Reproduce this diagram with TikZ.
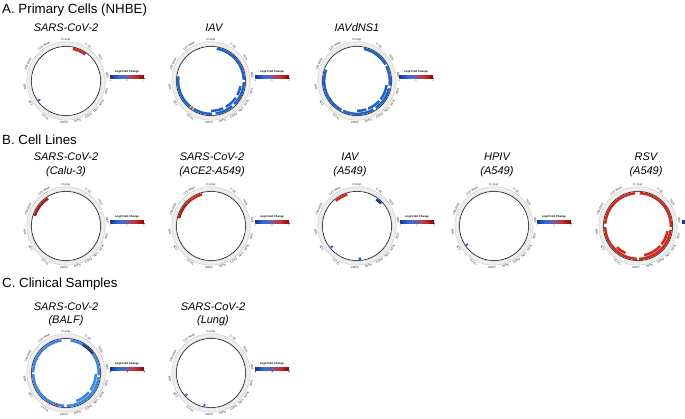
\documentclass[tikz,border=0pt]{standalone}
\usepackage{fontspec}
\setmainfont{Liberation Sans}
\usetikzlibrary{calc}
\definecolor{lfcnavy}{HTML}{14318F}
\definecolor{lfcblue}{HTML}{2C6FE0}
\definecolor{lfcmid}{HTML}{7A5C9E}
\definecolor{lfcred}{HTML}{D42A22}
\definecolor{lfcdark}{HTML}{7E0A0A}
\definecolor{trkblue}{HTML}{1F62CC}
\definecolor{trklight}{HTML}{3A86E6}
\definecolor{trknavy}{HTML}{1B3B8C}
\definecolor{trkred}{HTML}{D2281C}
\definecolor{trkdark}{HTML}{B01A14}
\pgfdeclarehorizontalshading{lfcshade}{100bp}{color(0bp)=(lfcnavy); color(25bp)=(lfcnavy); color(37.5bp)=(lfcblue); color(50bp)=(lfcmid); color(62.5bp)=(lfcred); color(75bp)=(lfcdark); color(100bp)=(lfcdark)}
\newcommand\mtband[5]{\fill[#5] ({90-(#1)}:#4pt) arc[start angle={90-(#1)}, end angle={90-(#2)}, radius=#4pt] -- ({90-(#2)}:#3pt) arc[start angle={90-(#2)}, end angle={90-(#1)}, radius=#3pt] -- cycle;}
\newcommand\trkout[3]{\mtband{#1}{#2}{31.6}{34.1}{#3}}
\newcommand\trkin[3]{\mtband{#1}{#2}{28.6}{31.1}{#3}}
\tikzset{
  header/.style={font=\fontsize{13.3}{15}\selectfont, anchor=west, inner sep=0pt},
  ttl/.style={font=\fontsize{11}{13.5}\selectfont\itshape, align=center, inner sep=0pt},
  genelbl/.style={font=\fontsize{2.9}{3.2}\selectfont, inner sep=0pt, text=black!85},
  legtitle/.style={font=\fontsize{2.75}{3}\selectfont\bfseries, inner sep=0pt},
  legtick/.style={font=\fontsize{2.4}{3}\selectfont, inner sep=0pt, text=black!70},
  mtring/.pic={
    \fill[gray!13, even odd rule] (0,0) circle[radius=39.2pt] (0,0) circle[radius=35.2pt];
    \draw[gray!50, line width=0.3pt] (0,0) circle[radius=39.2pt] (0,0) circle[radius=35.2pt];
    \draw[black, line width=0.5pt] (0,0) circle[radius=34.6pt];
    \foreach \g/\t [count=\k] in {D-loop/0, CYB/32, ND6/56, ND5/82, ND4/104, ND4L/121, ND3/134, COX3/147, ATP6/164, COX2/183, COX1/210, ND2/238, ND1/261, 16S rRNA/294, 12S rRNA/328}{
      \pgfmathsetmacro\rot{ifthenelse(and(\t>90,\t<270),180-\t,-\t)}
      \node[genelbl, rotate=\rot] (-g\k) at ({90-\t}:41.6pt) {\g};
    }
  },
  legbar/.pic={
    \shade[shading=lfcshade] (0,0) rectangle (34pt,3.4pt);
  },
  mtlegend/.pic={
    \shade[shading=lfcshade] (0,0) rectangle (34pt,3.4pt);
    \node[legtitle] (-t) at (17pt,6.6pt) {Log2 Fold Change};
    \draw[line width=0.2pt, black!60] (0,0) -- (0,-0.9pt) (17pt,0) -- (17pt,-0.9pt) (34pt,0) -- (34pt,-0.9pt);
    \node[legtick] (-l) at (0,-2.2pt) {-1};
    \node[legtick] (-m) at (17pt,-2.2pt) {0};
    \node[legtick] (-r) at (34pt,-2.2pt) {1};
  }
}
\begin{document}
\begin{tikzpicture}[x=1pt,y=1pt]
\useasboundingbox (0,0) rectangle (685,418);
\clip (0,0) rectangle (685,418);
\fill[white] (0,0) rectangle (685,418);

% headers
\node[header] (hA) at (2,408) {A. Primary Cells (NHBE)};
\node[header] (hB) at (2,278) {B. Cell Lines};
\node[header] (hC) at (2,134) {C. Clinical Samples};

% titles
\node[ttl] (ta1) at (66,390) {SARS-CoV-2};
\node[ttl] (ta2) at (214,390) {IAV};
\node[ttl] (ta3) at (357,390) {IAVdNS1};
\node[ttl] (tb1) at (66,253) {SARS-CoV-2\\(Calu-3)};
\node[ttl] (tb2) at (212,253) {SARS-CoV-2\\(ACE2-A549)};
\node[ttl] (tb3) at (350,253) {IAV\\(A549)};
\node[ttl] (tb4) at (497,253) {HPIV\\(A549)};
\node[ttl] (tb5) at (646,253) {RSV\\(A549)};
\node[ttl] (tc1) at (66,103.5) {SARS-CoV-2\\(BALF)};
\node[ttl] (tc2) at (213,103.5) {SARS-CoV-2\\(Lung)};

% circle centres
\coordinate (a1) at (66,337);
\coordinate (a2) at (211,337);
\coordinate (a3) at (357,337);
\coordinate (b1) at (66,192);
\coordinate (b2) at (211,192);
\coordinate (b3) at (357,192);
\coordinate (b4) at (494,192);
\coordinate (b5) at (638,192);
\coordinate (c1) at (66,45);
\coordinate (c2) at (211,45);

% rings
\foreach \c in {a1,a2,a3,b1,b2,b3,b4,b5,c1,c2}{
  \pic (r\c) at (\c) {mtring};
}

% legends
\pic (la1) at (110,339.5) {mtlegend};
\pic (la2) at (255,339.5) {mtlegend};
\pic (la3) at (399,339.5) {mtlegend};
\pic (lb1) at (110,194.5) {mtlegend};
\pic (lb2) at (255,194.5) {mtlegend};
\pic (lb3) at (400,194.5) {mtlegend};
\pic (lb4) at (537,194.5) {mtlegend};
\pic (lb5) at (682,194.5) {legbar};
\pic (lc1) at (110,47.5) {mtlegend};
\pic (lc2) at (255,47.5) {mtlegend};

% A1 SARS-CoV-2 NHBE
\begin{scope}[shift={(a1)}]
  \trkout{12}{36}{trkred}
  \trkout{233}{236}{trkblue}
\end{scope}
% A2 IAV
\begin{scope}[shift={(a2)}]
  \trkout{10}{88}{trkblue}
  \trkout{92}{135}{trkblue}
  \trkout{140}{172}{trkblue}
  \trkout{178}{212}{trkblue}
  \trkout{214}{217}{trkred}
  \trkout{219}{278}{trkblue}
  \trkin{100}{118}{trkblue}
  \trkin{124}{150}{trkblue}
  \trkin{156}{180}{trkblue}
\end{scope}
% A3 IAVdNS1
\begin{scope}[shift={(a3)}]
  \trkout{12}{60}{trkblue}
  \trkout{63}{98}{trkblue}
  \trkout{103}{145}{trkblue}
  \trkout{150}{205}{trkblue}
  \trkout{208}{290}{trkblue}
  \trkin{98}{128}{trkblue}
  \trkin{132}{158}{trkblue}
  \trkin{162}{180}{trkblue}
\end{scope}
% B1 Calu-3
\begin{scope}[shift={(b1)}]
  \trkout{288}{327}{trkdark}
\end{scope}
% B2 ACE2-A549
\begin{scope}[shift={(b2)}]
  \trkout{284}{312}{trkdark}
  \trkout{312}{344}{trkred}
\end{scope}
% B3 IAV A549
\begin{scope}[shift={(b3)}]
  \trkout{320}{343}{trkred}
  \trkout{36}{47}{trknavy}
  \trkout{229}{232}{trkblue}
  \trkout{173}{177}{trkblue}
\end{scope}
% B4 HPIV
\begin{scope}[shift={(b4)}]
  \trkout{234}{237}{trkblue}
\end{scope}
% B5 RSV
\begin{scope}[shift={(b5)}]
  \trkout{3}{92}{trkred}
  \trkout{97}{178}{trkred}
  \trkout{182}{268}{trkred}
  \trkout{274}{355}{trkred}
  \trkin{100}{128}{trkred}
  \trkin{132}{168}{trkred}
  \trkin{205}{225}{trkred}
\end{scope}
% C1 BALF
\begin{scope}[shift={(c1)}]
  \trkout{8}{30}{trklight}
  \trkout{30}{55}{trknavy}
  \trkout{55}{94}{trklight}
  \trkout{97}{179}{trklight}
  \trkout{183}{195}{trklight}
  \trkout{195}{199}{trkred}
  \trkout{199}{268}{trklight}
  \trkout{271}{352}{trklight}
  \trkin{92}{125}{trklight}
  \trkin{130}{160}{trklight}
\end{scope}
% C2 Lung
\begin{scope}[shift={(c2)}]
  \trkout{227}{230}{trkblue}
  \trkout{190}{193}{trkblue}
\end{scope}
\end{tikzpicture}
\end{document}
